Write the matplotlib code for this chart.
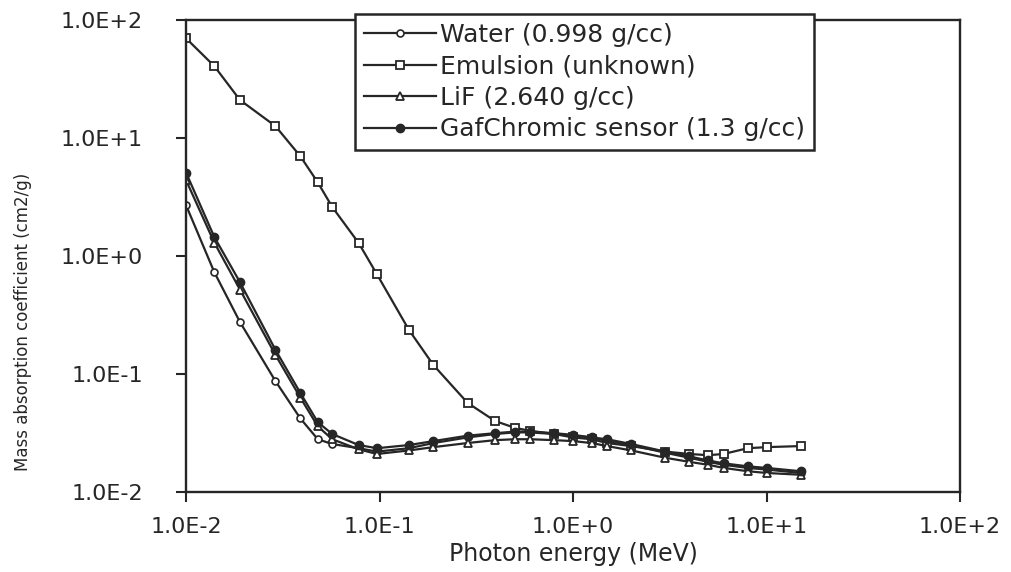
import matplotlib
matplotlib.use("Agg")
import matplotlib.pyplot as plt
import numpy as np

# photon energy (MeV)
energy = [0.01, 0.014, 0.019, 0.029, 0.039, 0.048, 0.057, 0.078, 0.097, 0.142,
          0.19, 0.285, 0.395, 0.5, 0.6, 0.8, 1.0, 1.25, 1.5, 2, 3, 4, 5, 6, 8, 10, 15]

# mass absorption coefficient (cm2/g)
water = [2.7, 0.73, 0.276, 0.087, 0.042, 0.028, 0.0255, 0.0235, 0.022, 0.0235,
         0.026, 0.029, 0.031, 0.032, 0.032, 0.031, 0.030, 0.029, 0.027, 0.025,
         0.0215, 0.0195, 0.018, 0.017, 0.016, 0.0155, 0.0145]
emulsion = [70, 40.7, 21, 12.6, 7.0, 4.2, 2.6, 1.29, 0.70, 0.236,
            0.119, 0.057, 0.040, 0.035, 0.033, 0.031, 0.029, 0.028, 0.026, 0.0245,
            0.022, 0.021, 0.0205, 0.021, 0.0235, 0.024, 0.0245]
lif = [4.4, 1.3, 0.52, 0.145, 0.063, 0.036, 0.028, 0.023, 0.021, 0.0225,
       0.024, 0.026, 0.0275, 0.028, 0.028, 0.0275, 0.027, 0.026, 0.0245, 0.0225,
       0.0195, 0.018, 0.017, 0.016, 0.015, 0.0145, 0.014]
gafchromic = [5.1, 1.45, 0.60, 0.16, 0.069, 0.039, 0.031, 0.025, 0.0235, 0.025,
              0.027, 0.030, 0.0315, 0.0325, 0.0325, 0.0315, 0.0305, 0.029, 0.028, 0.0255,
              0.022, 0.020, 0.0185, 0.0175, 0.0165, 0.016, 0.015]

labels = ['Water (0.998 g/cc)', 'Emulsion (unknown)', 'LiF (2.640 g/cc)',
          'GafChromic sensor (1.3 g/cc)']
tick_labels = ['1.0E-2', '1.0E-1', '1.0E+0', '1.0E+1', '1.0E+2']

ink = '#262626'

fig = plt.figure(figsize=(10.12, 5.72), dpi=100)
ax = fig.add_axes([186/1012, 1-492/572, (960-186)/1012, (492-20)/572])

ax.plot(energy, water, '-o', color=ink, lw=1.6, ms=5, mfc='white', mec=ink, mew=1.2, label=labels[0])
ax.plot(energy, emulsion, '-s', color=ink, lw=1.6, ms=6, mfc='white', mec=ink, mew=1.3, label=labels[1])
ax.plot(energy, lif, '-^', color=ink, lw=1.6, ms=6, mfc='white', mec=ink, mew=1.3, label=labels[2])
ax.plot(energy, gafchromic, '-o', color=ink, lw=1.6, ms=6, mfc=ink, mec=ink, label=labels[3])

ax.set_xscale('log')
ax.set_yscale('log')
ax.set_xlim(1e-2, 1e2)
ax.set_ylim(1e-2, 1e2)

ticks = [1e-2, 1e-1, 1e0, 1e1, 1e2]
ax.set_xticks(ticks)
ax.set_yticks(ticks)
ax.set_xticklabels(tick_labels)
ax.set_yticklabels(tick_labels)
ax.minorticks_off()
ax.tick_params(labelsize=16, colors=ink, length=7, width=1.5)
ax.tick_params(axis='x', pad=11)
ax.tick_params(axis='y', pad=24)

for s in ax.spines.values():
    s.set_linewidth(1.7)
    s.set_color(ink)

ax.set_xlabel('Photon energy (MeV)', fontsize=17, color=ink)
ax.xaxis.set_label_coords(0.5, -0.105)
ax.set_ylabel('Mass absorption coefficient (cm2/g)', fontsize=12, color=ink)
ax.yaxis.set_label_coords(-0.199, 0.36)

leg = fig.legend(loc='upper left', bbox_to_anchor=(355/1012, 1-14/572), borderaxespad=0,
                 fontsize=18, frameon=True, fancybox=False, edgecolor=ink, framealpha=1,
                 handlelength=2.9, handletextpad=0.15, labelspacing=0.3, borderpad=0.35)
leg.get_frame().set_linewidth(1.8)
for t in leg.get_texts():
    t.set_color(ink)

plt.savefig('out.png', dpi=100)
